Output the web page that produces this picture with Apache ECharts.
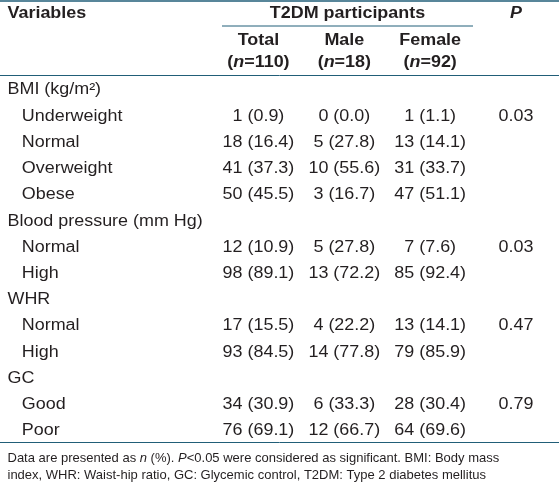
<!DOCTYPE html>
<html><head><meta charset="utf-8">
<script src="https://cdn.jsdelivr.net/npm/echarts@6/dist/echarts.min.js"></script>
<style>html,body{margin:0;padding:0;background:#fff}#c{width:559px;height:485px}</style>
</head><body><div id="c"></div>
<script>
// ---- data ----
const rowLabels = ['BMI (kg/m\u00B2)', 'Underweight', 'Normal', 'Overweight', 'Obese',
  'Blood pressure (mm Hg)', 'Normal', 'High', 'WHR', 'Normal', 'High', 'GC', 'Good', 'Poor'];
const rowLevels = [0, 1, 1, 1, 1, 0, 1, 1, 0, 1, 1, 0, 1, 1];
const groupTitle = 'T2DM participants';
const stubTitle = 'Variables';
const columns = ['Total', 'Male', 'Female', 'P'];
const columnN = [110, 18, 92, null];
const totalN   = [null, 1, 18, 41, 50, null, 12, 98, null, 17, 93, null, 34, 76];
const totalPct = [null, 0.9, 16.4, 37.3, 45.5, null, 10.9, 89.1, null, 15.5, 84.5, null, 30.9, 69.1];
const maleN    = [null, 0, 5, 10, 3, null, 5, 13, null, 4, 14, null, 6, 12];
const malePct  = [null, 0.0, 27.8, 55.6, 16.7, null, 27.8, 72.2, null, 22.2, 77.8, null, 33.3, 66.7];
const femaleN  = [null, 1, 13, 31, 47, null, 7, 85, null, 13, 79, null, 28, 64];
const femalePct= [null, 1.1, 14.1, 33.7, 51.1, null, 7.6, 92.4, null, 14.1, 85.9, null, 30.4, 69.6];
const pValues  = [null, 0.03, null, null, null, null, 0.03, null, null, 0.47, null, null, 0.79, null];
const footerLines = [
  'Data are presented as {i|n} (%). {i|P}<0.05 were considered as significant. BMI: Body mass',
  'index, WHR: Waist-hip ratio, GC: Glycemic control, T2DM: Type 2 diabetes mellitus'
];

// ---- build ----
const FONT = '"Liberation Sans", Arial, Helvetica, sans-serif';
const INK = '#231f20';
const RULE = '#215e78';
const SX = 1.12;

const cells = [];
const groups = [[totalN, totalPct], [maleN, malePct], [femaleN, femalePct]];
rowLabels.forEach((_, r) => {
  groups.forEach((g, c) => {
    if (g[0][r] != null) cells.push({col: c, row: r, text: g[0][r] + ' (' + g[1][r].toFixed(1) + ')'});
  });
  if (pValues[r] != null) cells.push({col: 3, row: r, text: pValues[r].toFixed(2)});
});

function txt(x, y, text, opts, sx) {
  return {
    type: 'text', x: x, y: y, scaleX: sx == null ? SX : sx, silent: true,
    style: Object.assign({
      text: text, fill: INK, fontSize: 16, fontFamily: FONT,
      align: 'center', verticalAlign: 'middle'
    }, opts || {})
  };
}

const chart = echarts.init(document.getElementById('c'), null, {renderer: 'canvas'});
chart.setOption({
  animation: false,
  backgroundColor: '#ffffff',
  grid: {left: 215.5, top: 76.9, width: 348.4, height: 367.2},
  xAxis: {type: 'category', data: columns, show: false},
  yAxis: {type: 'category', data: rowLabels, inverse: true, show: false},
  series: [
    {
      type: 'custom', clip: false, silent: true,
      data: cells.map(c => [c.col, c.row]),
      encode: {x: 0, y: 1},
      renderItem: (params, api) => {
        const p = api.coord([api.value(0), api.value(1)]);
        return txt(p[0], p[1], cells[params.dataIndex].text);
      }
    },
    {
      type: 'custom', clip: false, silent: true,
      data: rowLabels.map((_, i) => [0, i]),
      encode: {x: 0, y: 1},
      renderItem: (params, api) => {
        const i = params.dataIndex;
        const p = api.coord([0, api.value(1)]);
        const x = params.coordSys.x - 208 + rowLevels[i] * 14.3;
        return txt(x, p[1], rowLabels[i], {align: 'left'});
      }
    },
    {
      type: 'custom', clip: false, silent: true,
      data: columns.map((_, i) => [i, 0]),
      encode: {x: 0, y: 1},
      renderItem: (params, api) => {
        const i = params.dataIndex;
        const x = api.coord([api.value(0), 0])[0];
        if (columnN[i] == null) {
          return txt(x, 14, columns[i], {fontWeight: 'bold', fontStyle: 'italic'});
        }
        return {
          type: 'group', children: [
            txt(x, 41, columns[i], {fontWeight: 'bold'}),
            txt(x, 63, '({i|n}=' + columnN[i] + ')', {
              fontWeight: 'bold',
              rich: {i: {fontStyle: 'italic', fontWeight: 'bold', fontSize: 16, fontFamily: FONT, fill: INK}}
            })
          ]
        };
      }
    }
  ],
  graphic: [
    {type: 'line', silent: true, shape: {x1: 0, y1: 1, x2: 559, y2: 1}, style: {stroke: RULE, lineWidth: 1.5}},
    {type: 'line', silent: true, shape: {x1: 222, y1: 26, x2: 473, y2: 26}, style: {stroke: RULE, lineWidth: 1}},
    {type: 'line', silent: true, shape: {x1: 0, y1: 75.5, x2: 559, y2: 75.5}, style: {stroke: RULE, lineWidth: 1}},
    {type: 'line', silent: true, shape: {x1: 0, y1: 442.5, x2: 559, y2: 442.5}, style: {stroke: RULE, lineWidth: 1}},
    txt(7.5, 14, stubTitle, {align: 'left', fontWeight: 'bold'}),
    txt(347.5, 14, groupTitle, {fontWeight: 'bold'}),
    txt(7.5, 458, footerLines[0], {align: 'left', fontSize: 13,
      rich: {i: {fontStyle: 'italic', fontSize: 13, fontFamily: FONT, fill: INK}}}, 1.0),
    txt(7.5, 475, footerLines[1], {align: 'left', fontSize: 13}, 1.0)
  ]
});
</script></body></html>
